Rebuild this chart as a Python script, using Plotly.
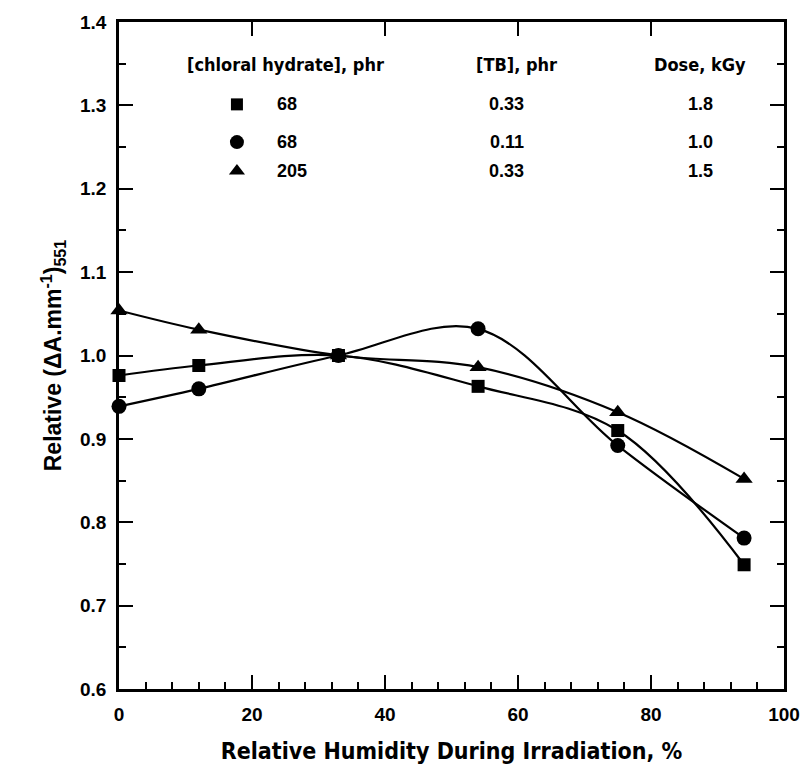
import plotly.graph_objects as go

# Relative humidity during irradiation (%)
humidity = [0, 12, 33, 54, 75, 94]

# Relative (dA/mm)_551 response for each formulation
resp_68_033 = [0.976, 0.988, 1.000, 0.963, 0.910, 0.749]   # squares
resp_68_011 = [0.939, 0.960, 1.000, 1.032, 0.892, 0.781]   # circles
resp_205_033 = [1.054, 1.031, 1.000, 0.986, 0.932, 0.852]  # triangles

# Legend table contents
legend_headers = ["[chloral hydrate], phr", "[TB], phr", "Dose, kGy"]
chloral = ["68", "68", "205"]
tb = ["0.33", "0.11", "0.33"]
dose = ["1.8", "1.0", "1.5"]
symbols = ["square", "circle", "triangle-up"]
sizes = [13, 15, 15]

x_ticks = [0, 20, 40, 60, 80, 100]
y_ticks = [0.6, 0.7, 0.8, 0.9, 1.0, 1.1, 1.2, 1.3, 1.4]

W, H = 812, 773
L, R, T, B = 119, 22, 20, 81
X0, X1, Y0, Y1 = 0, 100, 0.6, 1.4


def px_to_x(px):
    return X0 + (px - L) / (W - L - R) * (X1 - X0)


def py_to_y(py):
    return Y1 - (py - T) / (H - T - B) * (Y1 - Y0)


BOLD = "Liberation Sans, Arial, sans-serif"
NARROW = "DejaVu Sans Condensed, Liberation Sans, sans-serif"

fig = go.Figure()

series = [resp_68_033, resp_68_011, resp_205_033]
for vals, sym, sz in zip(series, symbols, sizes):
    fig.add_trace(go.Scatter(
        x=humidity, y=vals, mode="lines+markers",
        line=dict(color="black", width=2.2, shape="spline", smoothing=1.0),
        marker=dict(symbol=sym, size=sz, color="black"),
        cliponaxis=False, showlegend=False, hoverinfo="skip",
    ))

# legend table: symbols and text
row_py = [103, 141, 170]
sym_x = px_to_x(238)
for i, py in enumerate(row_py):
    fig.add_trace(go.Scatter(
        x=[sym_x], y=[py_to_y(py)], mode="markers",
        marker=dict(symbol=symbols[i], size=sizes[i] - 1, color="black"),
        showlegend=False, hoverinfo="skip", cliponaxis=False,
    ))

header_px = [287, 520, 705]
for h, px in zip(legend_headers, header_px):
    fig.add_annotation(x=px_to_x(px), y=py_to_y(63), text="<b>" + h + "</b>", showarrow=False,
                       xanchor="center", yanchor="middle",
                       font=dict(family=NARROW, size=18, color="black"))

for i, py in enumerate(row_py):
    fig.add_annotation(x=px_to_x(276), y=py_to_y(py), text="<b>" + chloral[i] + "</b>",
                       showarrow=False, xanchor="left", yanchor="middle",
                       font=dict(family=BOLD, size=18, color="black"))
    fig.add_annotation(x=px_to_x(510), y=py_to_y(py), text="<b>" + tb[i] + "</b>",
                       showarrow=False, xanchor="center", yanchor="middle",
                       font=dict(family=BOLD, size=18, color="black"))
    fig.add_annotation(x=px_to_x(706), y=py_to_y(py), text="<b>" + dose[i] + "</b>",
                       showarrow=False, xanchor="center", yanchor="middle",
                       font=dict(family=BOLD, size=18, color="black"))

# invisible trace so the mirrored top/right axes are drawn
fig.add_trace(go.Scatter(x=[None], y=[None], xaxis="x2", yaxis="y2",
                         showlegend=False, hoverinfo="skip"))

axis_common = dict(showgrid=False, zeroline=False, linecolor="black", linewidth=2.5,
                   ticks="inside", tickcolor="black", tickwidth=2)

fig.update_layout(
    width=W, height=H,
    margin=dict(l=L, r=R, t=T, b=B, pad=0),
    plot_bgcolor="white", paper_bgcolor="white",
    xaxis=dict(range=[X0, X1], tickvals=x_ticks, ticklen=14,
               minor=dict(dtick=4, ticks="inside", ticklen=7, tickcolor="black", tickwidth=1.5),
               tickfont=dict(family=BOLD, size=19, color="black", weight="bold"),
               ticklabelstandoff=6,
               title=dict(text="<b>Relative Humidity During Irradiation, %</b>",
                          font=dict(family=NARROW, size=23, color="black"), standoff=20),
               showline=True, **axis_common),
    yaxis=dict(range=[Y0, Y1], tickvals=y_ticks, ticklen=14,
               ticktext=[f"{v:.1f}" for v in y_ticks],
               minor=dict(dtick=0.05, ticks="inside", ticklen=7, tickcolor="black", tickwidth=1.5),
               tickfont=dict(family=BOLD, size=19, color="black", weight="bold"),
               ticklabelstandoff=6,
               title=dict(text="<b>Relative (\u0394A.mm<sup>-1</sup>)<sub>551</sub></b>",
                          font=dict(family=BOLD, size=23, color="black"), standoff=12),
               showline=True, **axis_common),
    xaxis2=dict(range=[X0, X1], overlaying="x", side="top", anchor="y",
                tickvals=[20, 40, 60, 80], ticklen=14, showticklabels=False,
                showline=True, **axis_common),
    yaxis2=dict(range=[Y0, Y1], overlaying="y", side="right", anchor="x",
                tickvals=y_ticks, ticklen=14, showticklabels=False,
                minor=dict(dtick=0.05, ticks="inside", ticklen=7, tickcolor="black", tickwidth=1.5),
                showline=True, **axis_common),
)

fig.write_html("out.html")
